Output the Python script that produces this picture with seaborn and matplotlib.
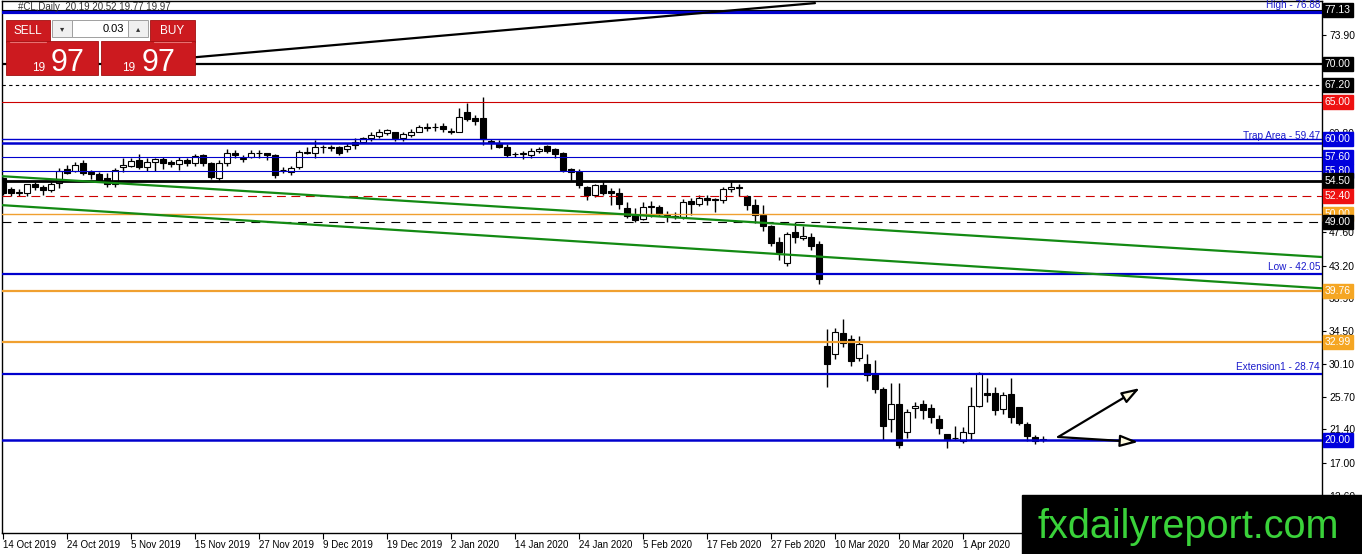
import matplotlib
matplotlib.use('Agg')
import matplotlib.pyplot as plt
import matplotlib.transforms as mtransforms
from matplotlib.patches import Rectangle
import seaborn as sns
import numpy as np

sns.set_theme(style='white')
plt.rcParams['font.family'] = ['Liberation Sans', 'DejaVu Sans']

# --- OHLC daily bars (#CL), 14 Oct 2019 -> 15 Apr 2020 ---
opens = [54.84, 53.4, 52.9, 52.8, 54.05, 53.7, 53.25, 54.15, 56.0, 55.8,
         56.8, 55.7, 55.35, 54.8, 54.05, 56.3, 56.45, 57.25, 56.25, 57.0,
         57.4, 56.95, 56.7, 57.25, 56.8, 57.85, 56.9, 54.8, 56.9, 58.2,
         57.4, 57.7, 58.15, 58.1, 57.9, 55.9, 55.7, 56.25, 58.2, 58.2,
         58.9, 58.9, 58.95, 58.65, 59.65, 59.65, 60.1, 60.45, 60.8, 60.9,
         60.2, 60.5, 61.0, 61.55, 61.6, 61.7, 61.1, 61.0, 63.65, 62.85,
         62.8, 59.8, 59.45, 59.0, 58.0, 58.0, 57.9, 58.45, 59.1, 58.65,
         58.2, 56.0, 55.65, 53.6, 52.6, 53.9, 53.05, 52.9, 50.8, 49.95,
         49.35, 51.0, 50.95, 49.85, 49.8, 49.7, 51.75, 51.4, 52.15, 52.1,
         51.95, 53.35, 53.6, 52.4, 51.25, 49.9, 48.45, 46.35, 43.5, 47.7,
         46.8, 46.95, 46.05, 32.5, 31.5, 34.2, 33.4, 30.85, 30.1, 28.75,
         26.75, 22.75, 24.8, 21.1, 24.2, 24.8, 24.2, 22.85, 20.8, 20.2,
         19.8, 20.95, 24.5, 26.2, 26.2, 24.1, 26.1, 24.35, 22.1, 20.45,
         20.19]
highs = [55.0, 53.6, 53.35, 54.1, 54.35, 53.9, 54.35, 56.2, 56.6, 57.0,
         57.2, 55.9, 55.6, 55.45, 56.2, 57.45, 57.45, 58.0, 57.5, 57.55,
         57.6, 57.3, 57.7, 57.5, 58.05, 58.05, 57.0, 57.25, 58.65, 58.5,
         57.9, 58.5, 58.5, 58.2, 58.0, 56.3, 56.5, 58.6, 58.95, 59.9,
         59.2, 59.2, 59.1, 59.5, 60.2, 60.25, 61.0, 61.3, 61.4, 61.0,
         60.9, 61.3, 61.9, 62.1, 62.2, 62.1, 61.5, 64.1, 64.8, 63.2,
         65.65, 60.0, 59.85, 59.3, 58.3, 58.4, 58.8, 59.0, 59.25, 58.8,
         58.35, 56.2, 56.0, 53.8, 54.1, 54.4, 53.5, 53.5, 51.7, 50.9,
         51.7, 51.8, 51.3, 50.5, 50.3, 52.0, 52.2, 52.55, 52.55, 52.2,
         53.6, 54.5, 54.0, 52.6, 52.0, 51.2, 48.6, 47.0, 47.6, 49.05,
         48.45, 47.55, 46.4, 34.7, 34.85, 36.05, 33.9, 33.85, 31.5, 30.65,
         27.1, 27.55, 27.55, 24.1, 25.05, 25.3, 24.75, 23.3, 20.85, 21.8,
         21.75, 27.1, 29.1, 28.2, 27.0, 26.35, 28.2, 24.4, 22.4, 20.65,
         20.52]
lows = [52.6, 52.45, 52.5, 52.5, 53.25, 52.6, 52.95, 53.5, 55.4, 55.6,
        55.3, 54.7, 54.35, 53.6, 53.7, 55.7, 56.3, 56.0, 55.8, 55.8,
        56.0, 56.3, 55.9, 56.5, 56.5, 56.5, 54.7, 54.45, 56.45, 57.5,
        57.0, 57.5, 57.5, 57.2, 54.9, 55.5, 55.3, 56.1, 58.05, 57.45,
        58.2, 58.4, 57.9, 58.3, 58.65, 59.5, 59.8, 60.15, 60.6, 59.8,
        59.8, 60.3, 60.9, 61.1, 61.1, 60.9, 60.7, 60.9, 62.45, 61.9,
        59.25, 58.7, 58.8, 57.6, 57.6, 57.35, 57.45, 58.2, 58.2, 57.5,
        55.65, 54.4, 53.55, 51.95, 52.3, 52.6, 51.25, 50.7, 49.5, 49.05,
        49.2, 49.6, 49.8, 49.05, 49.4, 49.4, 49.9, 51.1, 51.3, 50.3,
        51.5, 53.0, 52.4, 50.6, 48.9, 47.8, 45.8, 44.0, 43.1, 46.25,
        46.6, 45.3, 40.8, 27.1, 30.8, 32.4, 29.9, 30.45, 27.85, 26.2,
        20.0, 21.1, 19.0, 20.3, 22.9, 22.75, 22.2, 20.8, 19.0, 20.0,
        19.55, 20.0, 24.4, 25.0, 23.35, 23.5, 22.3, 22.0, 19.8, 19.45,
        19.77]
closes = [52.85, 52.8, 53.0, 54.05, 53.6, 53.25, 54.05, 55.8, 55.55, 56.6,
          55.45, 55.35, 54.55, 54.05, 55.9, 56.6, 57.15, 56.25, 57.0, 57.35,
          56.8, 56.65, 57.25, 56.8, 57.75, 56.9, 55.0, 56.9, 58.2, 57.9,
          57.5, 58.2, 58.1, 57.9, 55.25, 55.95, 56.15, 58.35, 58.3, 58.9,
          58.95, 58.85, 58.1, 59.1, 59.2, 60.1, 60.55, 60.9, 61.2, 60.1,
          60.65, 61.0, 61.65, 61.6, 61.6, 61.4, 60.95, 63.0, 62.65, 62.45,
          60.0, 59.45, 58.9, 57.9, 58.05, 58.15, 58.45, 58.75, 58.45, 58.05,
          55.9, 55.7, 53.9, 52.55, 53.9, 52.9, 52.8, 51.4, 49.8, 49.25,
          51.0, 51.05, 50.05, 49.95, 49.7, 51.6, 51.4, 52.15, 51.9, 51.95,
          53.35, 53.6, 53.45, 51.2, 49.9, 48.45, 46.15, 45.05, 47.4, 46.95,
          47.1, 45.85, 41.35, 30.1, 34.3, 32.85, 30.55, 32.75, 28.6, 26.75,
          21.8, 24.8, 19.35, 23.75, 24.5, 24.0, 23.0, 21.55, 20.0, 20.3,
          21.1, 24.5, 28.85, 25.95, 24.0, 26.0, 23.0, 22.2, 20.5, 19.9,
          19.97]

date_labels = ['14 Oct 2019', '24 Oct 2019', '5 Nov 2019', '15 Nov 2019',
               '27 Nov 2019', '9 Dec 2019', '19 Dec 2019', '2 Jan 2020',
               '14 Jan 2020', '24 Jan 2020', '5 Feb 2020', '17 Feb 2020',
               '27 Feb 2020', '10 Mar 2020', '20 Mar 2020', '1 Apr 2020']
price_ticks = [73.90, 69.50, 65.10, 60.80, 56.40, 52.00, 47.60, 43.20,
               38.90, 34.50, 30.10, 25.70, 21.40, 17.00, 12.60, 8.20]

# horizontal levels
level_values = [77.13, 76.88, 70.00, 67.20, 65.00, 60.00, 59.47, 57.60, 55.80,
                54.50, 52.40, 50.00, 49.00, 42.05, 39.76, 32.99, 28.74, 20.00]
level_styles = [('black', 0.8, '-'), ('#0000cd', 2.3, '-'), ('black', 1.6, '-'),
                ('black', 0.8, (0, (3, 3))), ('#cc0000', 0.8, '-'),
                ('#0000cd', 1.0, '-'), ('#0000cd', 1.8, '-'),
                ('#0000cd', 0.8, '-'), ('#0000cd', 0.8, '-'),
                ('black', 2.0, '-'), ('#cc0000', 0.8, (0, (8, 5))),
                ('#f0a030', 1.0, '-'), ('black', 0.8, (0, (8, 6))),
                ('#0000cd', 1.6, '-'), ('#f0a030', 1.6, '-'),
                ('#f0a030', 1.6, '-'), ('#0000cd', 1.6, '-'),
                ('#0000cd', 1.8, '-')]

box_values = [77.13, 70.00, 67.20, 65.00, 60.00, 57.60, 55.80, 54.50,
              52.40, 50.00, 49.00, 39.76, 32.99, 20.00]
box_colors = ['black', 'black', 'black', '#ee1111', '#0000dd', '#0000dd',
              '#0000dd', 'black', '#ee1111', '#f5a623', 'black', '#f5a623',
              '#f5a623', '#0000dd']

line_label_text = ['High - 76.88', 'Trap Area - 59.47', 'Low - 42.05',
                   'Extension1 - 28.74']
line_label_values = [76.88, 59.47, 42.05, 28.74]

# channel / trend lines (bar index, price)
upper_channel_x = [-0.4, 164.9]
upper_channel_y = [55.1, 44.33]
lower_channel_x = [-0.4, 164.9]
lower_channel_y = [51.25, 40.17]
trend_x = [24.0, 101.5]
trend_y = [70.9, 78.1]

# projection arrows
arrow_start = (131.9, 20.4)
arrow_up_end = (142.1, 26.9)
arrow_flat_end = (141.9, 19.73)

W, H = 1362, 554
fig = plt.figure(figsize=(W / 100, H / 100), dpi=100)
fig.patch.set_facecolor('white')
ax = fig.add_axes([2 / W, 1 - 533 / H, 1320 / W, 532 / H])
ax.set_facecolor('white')

idx = np.arange(len(opens))
o = np.array(opens); c = np.array(closes)
hi = np.array(highs); lo = np.array(lows)
up = c >= o

ax.vlines(idx, lo, hi, color='black', lw=1.0, zorder=2)
body_w = 0.68
ax.bar(idx[up], np.maximum(c[up] - o[up], 0.06), bottom=o[up], width=body_w,
       color='white', edgecolor='black', linewidth=0.8, zorder=2.2)
ax.bar(idx[~up], o[~up] - c[~up], bottom=c[~up], width=body_w,
       color='black', edgecolor='black', linewidth=0.8, zorder=2.2)

for val, (col, lw, ls) in zip(level_values, level_styles):
    ax.axhline(val, color=col, lw=lw, ls=ls, zorder=3)

sns.lineplot(x=upper_channel_x, y=upper_channel_y, ax=ax, color='#138a13',
             lw=1.6, zorder=3, legend=False)
sns.lineplot(x=lower_channel_x, y=lower_channel_y, ax=ax, color='#138a13',
             lw=1.6, zorder=3, legend=False)
sns.lineplot(x=trend_x, y=trend_y, ax=ax, color='black', lw=1.6, zorder=3,
             legend=False)

for end in (arrow_up_end, arrow_flat_end):
    ax.annotate('', xy=end, xytext=arrow_start,
                arrowprops=dict(arrowstyle='-|>,head_length=0.9,head_width=0.3',
                                ec='black', fc='#fffbe0', lw=1.6,
                                shrinkA=0, shrinkB=0), zorder=4)

ax.set_xlim(-0.125, 164.875)
ax.set_ylim(7.63, 78.38)

# axes styling
for sp in ax.spines.values():
    sp.set_color('black')
    sp.set_linewidth(1.0)
ax.yaxis.tick_right()
ax.set_yticks(price_ticks)
ax.set_yticklabels([f'{v:.2f}' for v in price_ticks])
ax.set_xticks(np.arange(len(date_labels)) * 8)
ax.set_xticklabels(date_labels)
for lab in ax.get_xticklabels():
    lab.set_ha('left')
ax.tick_params(axis='x', bottom=True, direction='out', length=4, width=0.8,
               labelsize=7, pad=1, colors='black')
ax.tick_params(axis='y', right=True, direction='out', length=3, width=0.8,
               labelsize=7.5, pad=2, colors='black')
ax.grid(False)

# price boxes on the right axis
blend = mtransforms.blended_transform_factory(ax.transAxes, ax.transData)
for val, col in zip(box_values, box_colors):
    ax.text(1.0022, val, f'{val:.2f}', transform=blend, ha='left', va='center',
            fontsize=7.5, color='white', clip_on=False, zorder=6,
            bbox=dict(boxstyle='square,pad=0.2', fc=col, ec=col))

for txt, val in zip(line_label_text, line_label_values):
    ax.text(0.9985, val + 0.25, txt, transform=blend, ha='right',
            va='bottom', fontsize=7.2, color='#1a1acc', zorder=5)

# overlay in pixel coordinates: header, trade panel, watermark
ov = fig.add_axes([0, 0, 1, 1], zorder=10)
ov.set_xlim(0, W)
ov.set_ylim(H, 0)
ov.axis('off')

ov.text(18, 6.5, '#CL,Daily  20.19 20.52 19.77 19.97', fontsize=7,
        color='#333333', va='center', ha='left')

red = '#cc1a1f'
ov.add_patch(Rectangle((6, 20), 44, 22, fc=red, ec='#a01010', lw=0.6))
ov.add_patch(Rectangle((150, 20), 45, 22, fc=red, ec='#a01010', lw=0.6))
ov.add_patch(Rectangle((6, 41), 92, 34, fc=red, ec='#a01010', lw=0.6))
ov.add_patch(Rectangle((101, 41), 94, 34, fc=red, ec='#a01010', lw=0.6))
ov.plot([10, 46], [41.5, 41.5], color='#e87070', lw=0.8)
ov.plot([154, 191], [41.5, 41.5], color='#e87070', lw=0.8)
ov.add_patch(Rectangle((52, 20), 20, 17, fc='#f0f0f0', ec='#a0a0a0', lw=0.7))
ov.add_patch(Rectangle((72, 20), 56, 17, fc='white', ec='#a0a0a0', lw=0.7))
ov.add_patch(Rectangle((128, 20), 20, 17, fc='#f0f0f0', ec='#a0a0a0', lw=0.7))
ov.text(62, 28.5, '▾', fontsize=6, ha='center', va='center', color='#333333',
        family='DejaVu Sans')
ov.text(138, 28.5, '▴', fontsize=6, ha='center', va='center', color='#333333',
        family='DejaVu Sans')
ov.text(124, 29, '0.03', fontsize=8, ha='right', va='center', color='black')
ov.text(28, 31, 'SELL', fontsize=8.5, ha='center', va='center', color='white')
ov.text(172, 31, 'BUY', fontsize=8.5, ha='center', va='center', color='white')
for x19, x97 in ((32, 51), (122, 142)):
    ov.text(x19, 71, '19', fontsize=8.5, ha='left', va='baseline', color='white')
    ov.text(x97, 71, '97', fontsize=22, ha='left', va='baseline', color='white')

ov.add_patch(Rectangle((1022, 495), 340, 59, fc='black', ec='black'))
ov.text(1188, 538, 'fxdailyreport.com', fontsize=28.5, ha='center',
        va='baseline', color='#3ad23a')

fig.savefig('out.png', dpi=100, facecolor='white')
